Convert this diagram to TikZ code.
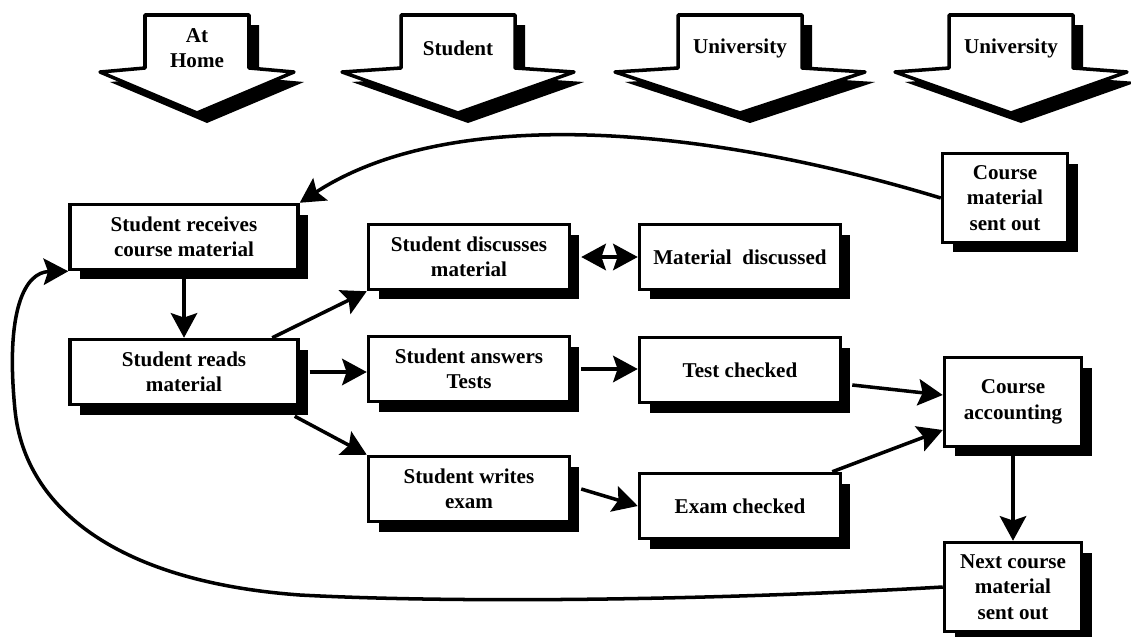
\documentclass[tikz,border=0pt]{standalone}
\usepackage{fontspec}
\setmainfont{Liberation Serif}
\usepackage{tikz}
\usetikzlibrary{shapes,arrows.meta,positioning,calc,shadows}

\begin{document}
\begin{tikzpicture}[
    x=0.02cm, y=-0.02cm,
    box/.style={rectangle, draw=black, fill=white, line width=2pt, align=center, inner sep=2pt,
        font=\bfseries\fontsize{12}{14.5}\selectfont,
        drop shadow={shadow xshift=0.2cm, shadow yshift=-0.2cm, fill=black, opacity=1}},
    wide/.style={box, minimum width=4.56cm, minimum height=1.3cm},
    mid/.style={box, minimum width=4.02cm, minimum height=1.3cm},
    narrow/.style={box, minimum width=2.74cm, minimum height=1.78cm},
    lane/.style={draw=black, fill=white, line width=2pt, line join=round,
        drop shadow={shadow xshift=0.2cm, shadow yshift=-0.2cm, fill=black, opacity=1}},
    lanelabel/.style={align=center, inner sep=1pt, font=\bfseries\fontsize{12}{14.5}\selectfont},
    flow/.style={-{Stealth[length=14pt, width=15pt, inset=2.5pt]}, line width=2pt},
    both/.style={{Stealth[length=14pt, width=15pt, inset=2.5pt]}-{Stealth[length=14pt, width=15pt, inset=2.5pt]}, line width=2pt}
]
    \fill[white] (0,0) rectangle (1131,636);
    \useasboundingbox (0,0) rectangle (1131,636);

    % Lanes
    \foreach \c/\s/\w/\txt [count=\i] in {197/52/97/{At\\Home}, 458/57/116/Student, 740/62/125/University, 1011/62/116/University} {
        \draw[lane] (\c-\s,15) -- (\c-\s,68) -- (\c-\w,72) -- (\c,113) -- (\c+\w,72) -- (\c+\s,68) -- (\c+\s,15) -- cycle;
        \node[lanelabel] (lane\i) at (\c,48) {\txt};
    }

    % Student side
    \node[wide] (recv) at (184,237) {Student receives\\course material};
    \node[wide] (reads) at (184,372) {Student reads\\material};
    \node[mid] (disc) at (469,257) {Student discusses\\material};
    \node[mid] (answ) at (469,369) {Student answers\\Tests};
    \node[mid] (write) at (469,489) {Student writes\\exam};

    % University side
    \node[mid] (mdisc) at (740,257) {Material\enspace discussed};
    \node[mid] (test) at (740,370) {Test checked};
    \node[mid] (exam) at (740,506) {Exam checked};
    \node[narrow, minimum width=2.5cm] (cmsent) at (1005,198) {Course\\material\\sent out};
    \node[narrow] (acct) at (1013,402) {Course\\accounting};
    \node[narrow] (next) at (1013,587) {Next course\\material\\sent out};

    % Flow
    \draw[flow] (recv) -- (reads);
    \draw[flow] ([xshift=-0.55cm]reads.north east) -- (disc.south west);
    \draw[flow] ([xshift=0.2cm]reads.east) -- (reads.east -| answ.west);
    \draw[flow] ([xshift=-0.1cm,yshift=-0.2cm]reads.south east) -- (write.north west);
    \draw[both] ([xshift=0.2cm]disc.east) -- (disc.east -| mdisc.west);
    \draw[flow] ([xshift=0.2cm]answ.east) -- (answ.east -| test.west);
    \draw[flow] ([xshift=0.2cm]write.east) -- (exam.west);
    \draw[flow] ([xshift=0.2cm,yshift=-0.3cm]test.east) -- ([yshift=0.14cm]acct.west);
    \draw[flow] ([xshift=-0.2cm]exam.north east) -- ([yshift=-0.56cm]acct.west);
    \draw[flow] (acct) -- (next);

    % Loops back
    \draw[flow] (cmsent.west) .. controls (700,125) and (450,105) .. (recv.north east);
    \coordinate (loopA) at (300,595);
    \coordinate (loopB) at (15,410);
    \draw[flow] (next.west) .. controls (700,601) and (450,603) .. (loopA)
        .. controls (120,582) and (25,510) .. (loopB)
        .. controls (5,310) and (25,272) .. (recv.south west);
\end{tikzpicture}
\end{document}
